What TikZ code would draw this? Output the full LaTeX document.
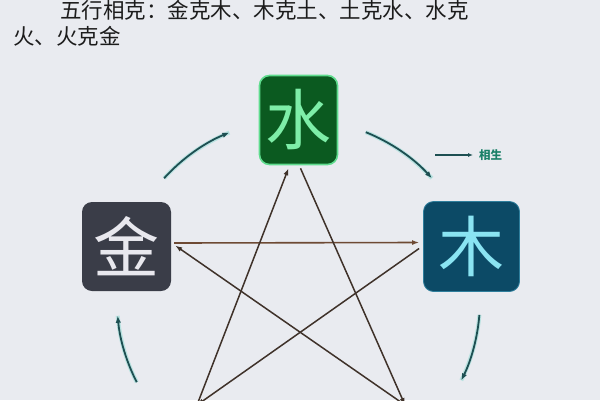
\documentclass[tikz,border=0pt]{standalone}
\usepackage{fontspec}
\newfontfamily\cjk{Noto Sans CJK SC}
\usetikzlibrary{arrows.meta}
\definecolor{bg}{HTML}{E9EBF0}
\definecolor{shuibg}{HTML}{0B5A20}
\definecolor{shuifg}{HTML}{7EEEA8}
\definecolor{shuiglow}{HTML}{5FDC8E}
\definecolor{jinbg}{HTML}{3A3D48}
\definecolor{jinfg}{HTML}{E8E8EE}
\definecolor{mubg}{HTML}{0C4A66}
\definecolor{mufg}{HTML}{8AE4F2}
\definecolor{muglow}{HTML}{2E7E9C}
\definecolor{keline}{HTML}{3F322A}
\definecolor{kered}{HTML}{6E4A34}
\definecolor{shengline}{HTML}{1D4F52}
\definecolor{shengglow}{HTML}{7FD8CE}
\definecolor{legtext}{HTML}{1A8068}
\definecolor{titletext}{HTML}{1C1C1C}
\tikzset{
  elem/.style={rounded corners=10pt, inner sep=0pt, font=\cjk\fontsize{66}{66}\selectfont},
  ke/.style={draw=keline, line width=1.5pt, -{Latex[length=7pt,width=5pt]}},
  sheng/.style={draw=shengline, line width=1.8pt, -{Latex[length=7pt,width=5.5pt]},
    preaction={draw=shengglow, line width=4pt, opacity=0.45, -}},
  titleline/.style={anchor=base west, inner sep=0pt, text=titletext, font=\cjk\fontsize{21.5}{26}\selectfont}
}
\begin{document}
\begin{tikzpicture}[x=1pt,y=-1pt]
\fill[bg] (0,0) rectangle (600,400);
\useasboundingbox (0,0) rectangle (600,400);
\clip (0,0) rectangle (600,400);

% title
\node[titleline] (t1) at (60,18) {五行相克：金克木、木克土、土克水、水克};
\node[titleline] (t2) at (13,44) {火、火克金};

% element boxes
\node[elem, fill=shuibg, text=shuifg, draw=shuiglow, line width=1.6pt,
      minimum width=78pt, minimum height=89pt] (shui) at (298.5,120) {水};
\node[elem, fill=jinbg, text=jinfg, minimum width=89pt, minimum height=89pt] (jin) at (126.5,246.5) {金};
\node[elem, fill=mubg, text=mufg, draw=muglow, line width=0.8pt,
      minimum width=96pt, minimum height=90pt] (mu) at (471.5,246.5) {木};

% off-canvas vertices
\coordinate (tu) at (197,405);
\coordinate (huo) at (405,405);
\coordinate (c) at (298,300);

% controlling star
\draw[ke, draw=kered, line width=1.6pt] ([xshift=3pt,yshift=3.5pt]jin.east) -- ([xshift=-4pt,yshift=4pt]mu.west);
\draw[ke] ([xshift=-4pt,yshift=-2pt]mu.west) -- (tu);
\draw[ke] (tu) -- ([xshift=-10pt,yshift=-3pt]shui.south);
\draw[ke] ([xshift=2pt,yshift=-3pt]shui.south) -- (huo);
\draw[ke] (huo) -- ([xshift=4pt,yshift=1pt]jin.east);

% generating cycle
\draw[sheng] (c) ++(-137.7:181) arc[start angle=-137.7, end angle=-112.3, radius=181];
\draw[sheng] (c) ++(-68:181) arc[start angle=-68, end angle=-42.3, radius=181];
\draw[sheng] (c) ++(4.7:182) arc[start angle=4.7, end angle=26.2, radius=182];
\draw[sheng] (c) ++(153:181) arc[start angle=153, end angle=175, radius=181];

% legend
\coordinate (legA) at (435,155);
\node[anchor=west, inner sep=0pt, text=legtext, font=\cjk\bfseries\fontsize{11.5}{11.5}\selectfont] (legT) at (479,155) {相生};
\draw[draw=shengline, line width=1.4pt, -{Latex[length=5pt,width=4pt]}] (legA) -- ([xshift=-6pt]legT.west);
\end{tikzpicture}
\end{document}
